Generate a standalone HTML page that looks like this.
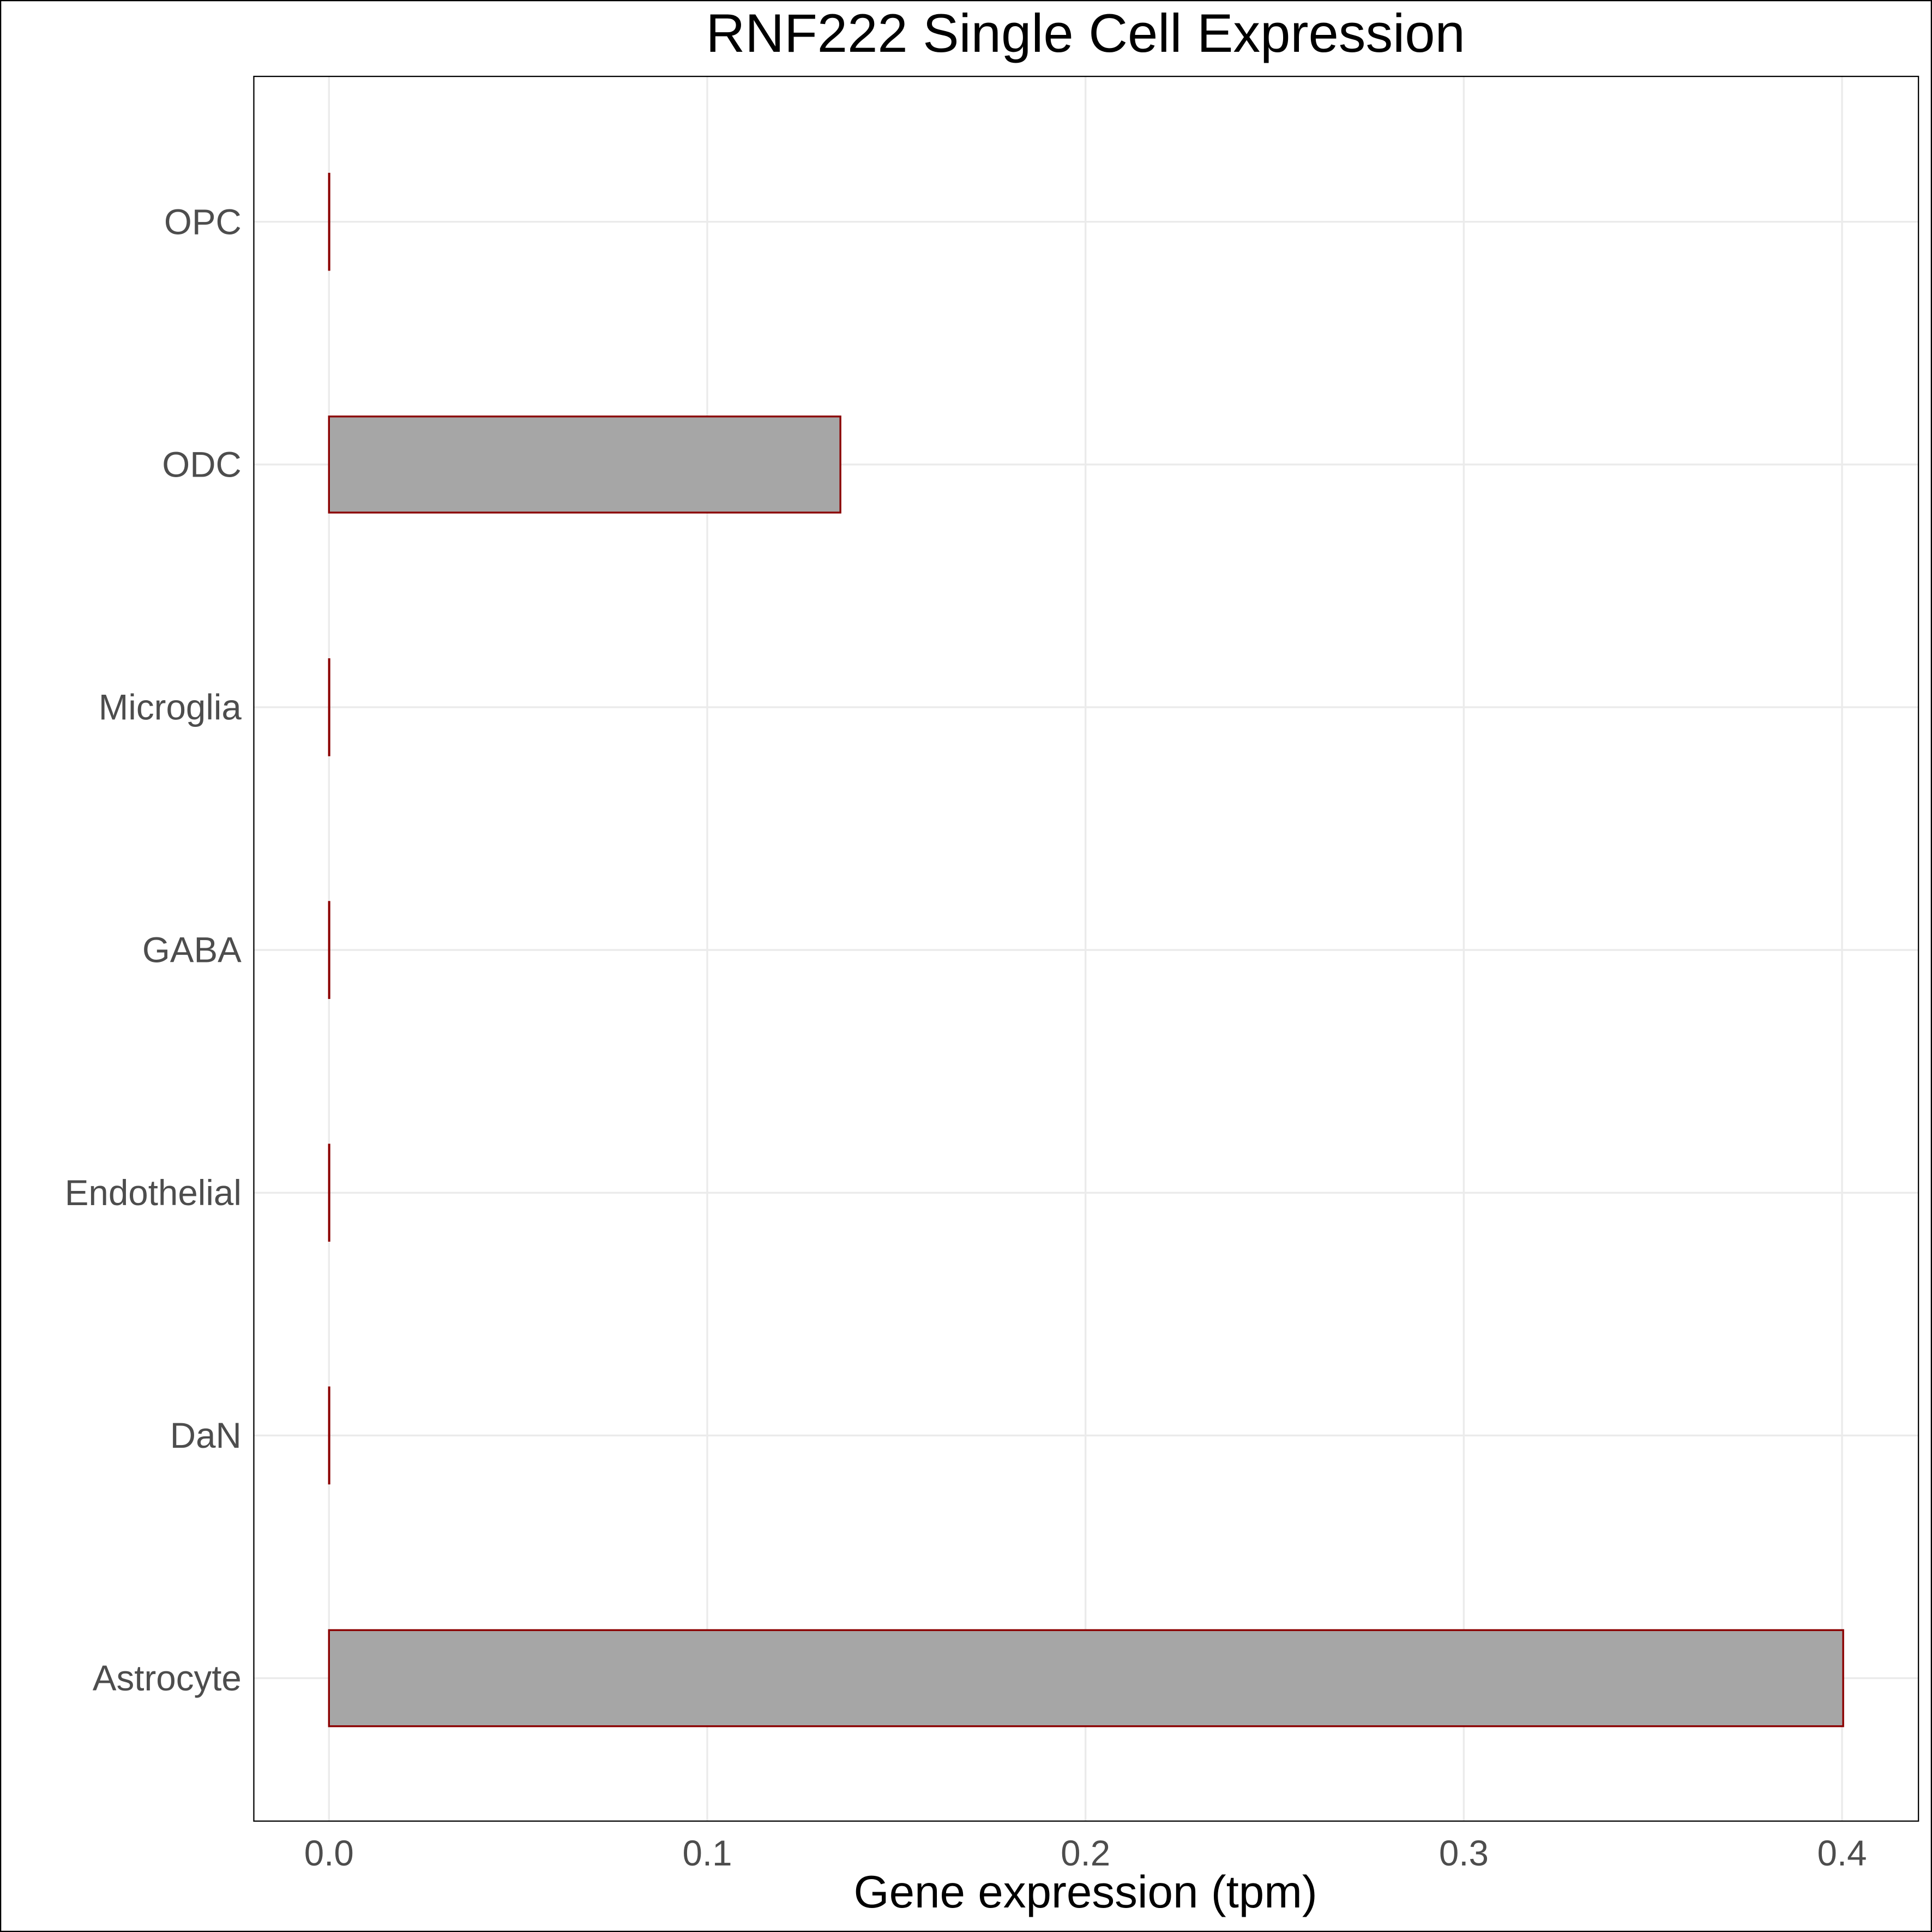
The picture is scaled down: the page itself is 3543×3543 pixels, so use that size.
<!DOCTYPE html>
<html><head><meta charset="utf-8"><style>
html,body{margin:0;padding:0;background:#fff}
svg{display:block;font-family:"Liberation Sans",sans-serif}
</style></head><body>
<svg id="chart" width="3543" height="3543" viewBox="0 0 1568 1568" xmlns="http://www.w3.org/2000/svg">
<rect x="0.5" y="0.5" width="1567" height="1567" fill="#fff" stroke="#000" stroke-width="1"/>
<text x="881" y="42" font-size="44" text-anchor="middle" fill="#000">RNF222 Single Cell Expression</text>
<g id="grid"></g>
<g id="bars"></g>
<rect x="206" y="62" width="1351" height="1416" fill="none" stroke="#000" stroke-width="1"/>
<g id="ylabels"></g>
<g id="xlabels"></g>
<text x="881" y="1548" font-size="37" text-anchor="middle" fill="#000">Gene expression (tpm)</text>
</svg>
<script>
const categories = ["Astrocyte","DaN","Endothelial","GABA","Microglia","ODC","OPC"];
const values = [0.4003,0,0,0,0,0.1352,0];
const xTicks = [0,0.1,0.2,0.3,0.4];
const xTickLabels = ["0.0","0.1","0.2","0.3","0.4"];
const NS="http://www.w3.org/2000/svg";
function xs(v){return 267+v*3070;}
function ys(i){return 1362-i*197;}
const grid=document.getElementById('grid'),bars=document.getElementById('bars'),yl=document.getElementById('ylabels'),xl=document.getElementById('xlabels');
function mk(tag,attrs,parent){const e=document.createElementNS(NS,tag);for(const k in attrs)e.setAttribute(k,attrs[k]);parent.appendChild(e);return e;}
xTicks.forEach((t,i)=>{
  const l=mk('line',{x1:xs(t),x2:xs(t),y1:62,y2:1478,stroke:'#ebebeb','stroke-width':1.5},grid);
  
  
  const tx=mk('text',{x:xs(t),y:1514,'font-size':29,'text-anchor':'middle',fill:'#4d4d4d'},xl);
  tx.textContent=xTickLabels[i];
  
  
});
categories.forEach((c,i)=>{
  const l=mk('line',{x1:206,x2:1557,y1:ys(i),y2:ys(i),stroke:'#ebebeb','stroke-width':1.5},grid);
  
  
  const tx=mk('text',{x:196,y:ys(i)+10,'font-size':29,'text-anchor':'end',fill:'#4d4d4d'},yl);
  tx.textContent=c;
  
  
  const w=Math.max(xs(values[i])-xs(0),0.3);
  const r=mk('rect',{x:xs(0),y:ys(i)-39,width:w,height:78,fill:'#a6a6a6',stroke:'#8b0000','stroke-width':1.5},bars);
  
  
});
</script>
</body></html>
